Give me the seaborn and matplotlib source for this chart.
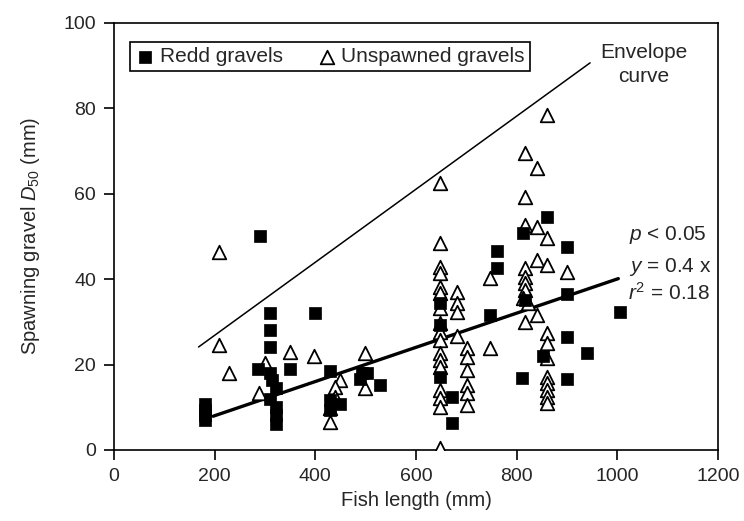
import numpy as np
import pandas as pd
import matplotlib
matplotlib.use("Agg")
import matplotlib.pyplot as plt
import seaborn as sns

# Redd gravels (filled squares)
redd_x = [180, 180, 180, 180, 290, 310, 310, 310, 286, 310, 314, 322, 310, 322, 322, 322,
          350, 400, 429, 429, 429, 449, 493, 503, 489, 529,
          648, 648, 648, 672, 672, 761, 761, 748,
          811, 813, 817, 861, 853, 900, 900, 900, 900, 940, 1006]
redd_y = [10.7, 9.3, 8.2, 7.0, 50, 32, 28, 24, 19, 18, 16.4, 14.5, 12, 10, 8.2, 6,
          19, 32, 18.5, 11.7, 9.3, 10.7, 18, 18, 16.6, 15.2,
          34.3, 29.2, 17, 12.4, 6.3, 46.5, 42.5, 31.5,
          16.8, 50.8, 35, 54.5, 22, 47.5, 36.5, 26.5, 16.5, 22.6, 32.2]

# Unspawned gravels (open triangles)
unsp_x = [209, 209, 229, 300, 288, 350, 398, 499, 449, 439, 439, 429, 429, 499,
          648, 648, 648, 648, 648, 648, 648, 648, 648, 648, 648, 648, 648, 648, 648, 648, 648,
          682, 682, 682, 682, 702, 702, 702, 702, 702, 702, 748, 748,
          861, 817, 841, 817, 817, 841, 861, 841, 861, 900, 817, 817, 817, 817, 812, 822,
          817, 841, 861, 861, 861, 861, 861, 861, 861, 861]
unsp_y = [46.3, 24.5, 18, 20.3, 13.3, 22.9, 22, 22.6, 16.4, 14.7, 12.4, 9.8, 6.5, 14.5,
          62.4, 48.4, 42.8, 41.4, 38.1, 36.7, 33.2, 29.7, 27.6, 25.7, 22.7, 21, 19.4, 14, 12.1, 10, 0.5,
          36.9, 34.3, 32.2, 26.6, 23.8, 21.7, 18.7, 15.2, 13.3, 10.5, 40.2, 23.8,
          78.3, 69.4, 66.1, 59.1, 52.6, 52.1, 49.5, 44.5, 43.2, 41.6, 42.5, 40.4, 39, 37.4, 35.5, 34.3,
          30, 31.5, 27.3, 25, 21.5, 17.1, 15.6, 14, 12.4, 11]

# fitted line y = 0.04 x and envelope curve end points
fit_x = [197, 1002]
fit_y = [7.9, 40.1]
env_x = [168, 946]
env_y = [24.1, 90.6]

sns.set_style("white")
plt.rcParams['font.family'] = ['Liberation Sans', 'DejaVu Sans']
plt.rcParams['mathtext.fontset'] = 'custom'
plt.rcParams['mathtext.rm'] = 'Liberation Sans'
plt.rcParams['mathtext.it'] = 'Liberation Sans:italic'

redd = pd.DataFrame({'x': redd_x, 'y': redd_y})
unsp = pd.DataFrame({'x': unsp_x, 'y': unsp_y})

fig = plt.figure(figsize=(7.44, 5.21), dpi=100)
ax = fig.add_axes([0.1532, 0.1363, 0.8118, 0.8202])

sns.lineplot(x=env_x, y=env_y, ax=ax, color='black', linewidth=1.1)
sns.lineplot(x=fit_x, y=fit_y, ax=ax, color='black', linewidth=2.4)

sns.scatterplot(data=unsp, x='x', y='y', ax=ax, marker='^', s=95,
                facecolor='white', edgecolor='black', linewidth=1.3,
                label='Unspawned gravels', zorder=3)
sns.scatterplot(data=redd, x='x', y='y', ax=ax, marker='s', s=70,
                color='black', edgecolor='black', linewidth=0.5,
                label='Redd gravels', zorder=4)

ax.set_xlim(0, 1200)
ax.set_ylim(0, 100)
ax.set_xticks(range(0, 1201, 200))
ax.set_yticks(range(0, 101, 20))
ax.set_xlabel('Fish length (mm)', fontsize=14.5, labelpad=4)
ax.set_ylabel('Spawning gravel $\\it{D}_{\\rm{50}}$ (mm)', fontsize=14.5, labelpad=15)
ax.tick_params(axis='both', direction='out', length=7, width=1.2, labelsize=14,
               pad=6, bottom=True, left=True, top=False, right=False, color='black')
for sp in ax.spines.values():
    sp.set_color('black')
    sp.set_linewidth(1.2)

h, l = ax.get_legend_handles_labels()
order = [l.index('Redd gravels'), l.index('Unspawned gravels')]
leg = ax.legend([h[i] for i in order], [l[i] for i in order], ncol=2,
                loc='upper left', bbox_to_anchor=(0.026, 0.955), fontsize=15,
                frameon=True, fancybox=False, edgecolor='black', framealpha=1,
                handletextpad=0.2, columnspacing=1.6, borderpad=0.25,
                handlelength=1.0, borderaxespad=0)
leg.get_frame().set_linewidth(1.2)

ax.text(1052, 93, 'Envelope', ha='center', va='center', fontsize=15)
ax.text(1052, 87.3, 'curve', ha='center', va='center', fontsize=15)
ax.text(1024, 50.3, '$p$ < 0.05', ha='left', va='center', fontsize=15)
ax.text(1024, 42.9, '$y$ = 0.4 x', ha='left', va='center', fontsize=15)
ax.text(1022, 36.7, '$r^{\\rm{2}}$ = 0.18', ha='left', va='center', fontsize=15)

fig.savefig('out.png', dpi=100)
